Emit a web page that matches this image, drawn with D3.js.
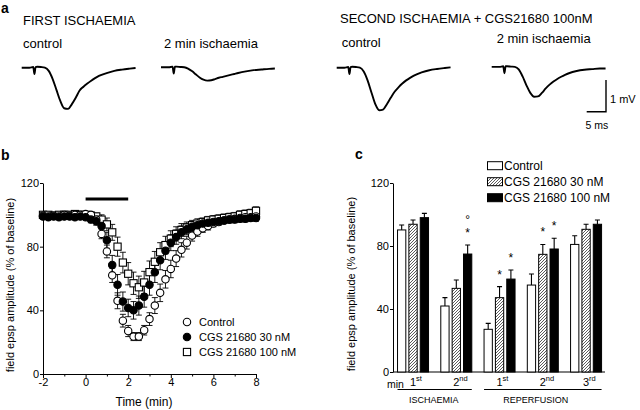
<!DOCTYPE html>
<html><head><meta charset="utf-8">
<script src="https://cdn.jsdelivr.net/npm/d3@7"></script>
<style>body{margin:0;background:#fff}svg{display:block;font-family:"Liberation Sans",Arial,Helvetica,sans-serif}</style>
</head><body>
<svg id="chart" width="640" height="410"></svg>
<script>
// ---------------- DATA ----------------
// panel a: field EPSP traces (time in ms, amplitude in mV)
const traceTimes = [0,1,2,3,3.3,3.6,4,5,6,7,8,9,10,11,12,13,14,15,16,17,18,19,20,22,24,26,28,29.5];
const traceFirstControl = [0,0,0,0.02,-0.2,0.02,0.03,0.02,0,-0.1,-0.35,-0.7,-1.05,-1.28,-1.3,-1.15,-0.95,-0.72,-0.6,-0.5,-0.41,-0.33,-0.26,-0.17,-0.1,-0.06,-0.03,-0.01];
const traceFirstIsch   = [0,0,0,0.02,-0.2,0.02,0.02,0.01,0,-0.04,-0.12,-0.22,-0.32,-0.39,-0.42,-0.41,-0.37,-0.33,-0.3,-0.27,-0.24,-0.21,-0.18,-0.13,-0.09,-0.07,-0.05,-0.04];
const traceSecondControl = [0,0,0,0.02,-0.2,0.02,0.03,0.02,0,-0.12,-0.4,-0.78,-1.15,-1.34,-1.32,-1.15,-0.95,-0.76,-0.62,-0.5,-0.4,-0.32,-0.25,-0.15,-0.08,-0.04,-0.01,0.01];
const traceSecondIsch  = [0,0,0,0.02,-0.2,0.02,0.02,0.01,0,-0.08,-0.3,-0.58,-0.82,-0.94,-0.93,-0.82,-0.68,-0.56,-0.46,-0.38,-0.31,-0.25,-0.2,-0.13,-0.09,-0.07,-0.05,-0.05];
const traceLabels = ["control","2 min ischaemia","control","2 min ischaemia"];
const headerLabels = ["FIRST ISCHAEMIA","SECOND ISCHAEMIA + CGS21680 100nM"];
const scaleBarMV = 1, scaleBarMS = 5;

// panel b: time course
const timeMin = [-2,-1.75,-1.5,-1.25,-1,-0.75,-0.5,-0.25,0,0.25,0.5,0.75,1,1.25,1.5,1.75,2,2.25,2.5,2.75,3,3.25,3.5,3.75,4,4.25,4.5,4.75,5,5.25,5.5,5.75,6,6.25,6.5,6.75,7,7.25,7.5,7.75,8];
const ctrlMean = [99.5,99,99.5,99,100,99.5,100,100,100.5,100,97,88,77,62,46,33.5,27,23.5,23.5,27.5,34.5,43,51,59.5,66,72.5,78,82.5,87,89.5,91.5,93,94.5,95.5,96.5,97,97.5,98,98.5,98.5,99];
const ctrlSE   = [1.5,1.5,1.5,1.5,1.5,1.5,1.5,1.5,1.5,1.5,2,3,4,4.5,5,4,3.5,2.5,2.5,3,4,5,5.5,5.5,5.5,5,4.5,4,3.5,3,2.5,2.5,2,2,2,2,2,2,2,2,2];
const cgs30Mean = [99,98.5,99,98.5,99,99,98.5,99,98.5,97,96,93,84,68.5,56,45.5,41.5,40,43,48.5,56,64,71.5,77.5,82.5,86,89,91,92.5,93.5,94.5,95,95.5,96,96.5,97,97,97.5,97.5,98,98];
const cgs30SE   = [1.5,1.5,1.5,1.5,1.5,1.5,1.5,1.5,1.5,2,2.5,4,5,6,6.5,6,5.5,5.5,6,6.5,6.5,6.5,6,5.5,5,4.5,4,3.5,3,2.5,2,2,2,2,2,2,2,2,2,2,2];
const cgs100Mean = [100,100,99.5,100,100,100,100.5,100,100,99.5,99,97,94,89,80,70,63,57,54.5,57.5,64,70.5,76.5,81,85,88,90.5,92,93.5,94.5,95.5,96.5,97,97.5,98,98.5,99,100,100.5,101,102.5];
const cgs100SE   = [1.5,1.5,1.5,1.5,1.5,1.5,1.5,1.5,1.5,1.5,2,3,4,5,6,6.5,7,7,7,7,7,6.5,6,5.5,5,4.5,4,3.5,3,3,2.5,2.5,2.5,2.5,2.5,2.5,2.5,2.5,2.5,2.5,2.5];
const ischaemiaPeriod = [0, 2];
const ischaemiaBarLevel = 110;
const bXTicks = [-2,-1,0,1,2,3,4,5,6,7,8];
const bYTicks = [0,40,80,120];
const seriesNames = ["Control","CGS 21680 30 nM","CGS 21680 100 nM"];

// panel c: bar chart
const barGroupNum = ["1","2","1","2","3"];
const barGroupSup = ["st","nd","st","nd","rd"];
const barCtrl    = [90.2,41.9,27.1,55.2,81];
const barCtrlErr = [3.1,5.3,3.8,7,5.5];
const bar30      = [93.8,53.1,47.2,74.7,90.6];
const bar30Err   = [2.7,5.3,7,6.3,3.2];
const bar100     = [98,74.9,59,78.1,93.8];
const bar100Err  = [2.7,5.7,5.8,6.8,2.7];
const cYTicks = [0,40,80,120];
const phaseNames = ["ISCHAEMIA","REPERFUSION"];
const phaseGroups = [[0,1],[2,4]];
const annotGroup  = [1,1,2,2,3,3];
const annotSeries = [2,2,1,2,1,2];
const annotText   = ["*","°","*","*","*","*"];
const annotLevel  = [0,1,0,0,0,0];

// ---------------- DRAW ----------------
const svg = d3.select("#chart");
const txt = (x,y,s,size,opts={}) => {
  const t = svg.append("text").attr("x",x).attr("y",y).attr("font-size",size).text(s);
  if (opts.anchor) t.attr("text-anchor",opts.anchor);
  if (opts.bold) t.attr("font-weight","bold");
  return t;
};

// panel letters
txt(1,13,"a",14,{bold:true});
txt(1,160,"b",14,{bold:true});
txt(355,159,"c",14,{bold:true});

// ---- panel a ----
txt(23,25,headerLabels[0],13);
txt(340,23.3,headerLabels[1],13);
const traceLabelPos = [[23,48.3],[164,48],[341.7,46.5],[496.7,43.3]];
traceLabels.forEach((l,i)=>txt(traceLabelPos[i][0],traceLabelPos[i][1],l,13));

const msScale = d3.scaleLinear().domain([0,5]).range([0,19.3]);
const mvScale = d3.scaleLinear().domain([0,-1]).range([0,31.7]);
const traceLine = d3.line().x(d=>msScale(d[0])).y(d=>mvScale(d[1])).curve(d3.curveMonotoneX);
const traces = [traceFirstControl,traceFirstIsch,traceSecondControl,traceSecondIsch];
const traceOrigins = [[21.7,67.7],[161,67.3],[336.7,67.7],[491.7,66.9]];
traces.forEach((vals,i)=>{
  svg.append("path")
    .attr("transform",`translate(${traceOrigins[i][0]},${traceOrigins[i][1]})`)
    .attr("d",traceLine(traceTimes.map((t,j)=>[t,vals[j]])))
    .attr("fill","none").attr("stroke","#000").attr("stroke-width",1.9);
});
// scale bar
const sbX = 606, sbY = 111.7;
const sbH = mvScale(-scaleBarMV)-mvScale(0), sbW = msScale(scaleBarMS)-msScale(0);
svg.append("path").attr("d",`M${sbX},${sbY-sbH}V${sbY}H${sbX-sbW}`)
  .attr("fill","none").attr("stroke","#000").attr("stroke-width",1.4);
txt(610,103.3,"1 mV",11);
txt(597,129,"5 ms",10.5,{anchor:"middle"});

// ---- panel b ----
const bx = d3.scaleLinear().domain([-2,8]).range([43,256]);
const by = d3.scaleLinear().domain([0,120]).range([374,183]);
const bxAxis = svg.append("g").attr("transform","translate(0,374)")
  .call(d3.axisBottom(bx).tickValues(bXTicks).tickFormat(d=>d%2===0?String(d):"")
        .tickSize(3).tickPadding(1).tickSizeOuter(0));
const byAxis = svg.append("g").attr("transform","translate(43,0)")
  .call(d3.axisLeft(by).tickValues(bYTicks).tickSize(3).tickPadding(1).tickSizeOuter(0));
[bxAxis,byAxis].forEach(g=>{
  g.selectAll("text").attr("font-size",11).attr("font-family",null).attr("fill","#000");
  g.selectAll("line,path").attr("stroke","#000");
  g.attr("font-family",null);
});
bxAxis.selectAll(".tick line").attr("y2",(d)=>d%2===0?4:2.5);
txt(144,406,"Time (min)",12,{anchor:"middle"});
svg.append("text").attr("transform","translate(14,285) rotate(-90)")
  .attr("text-anchor","middle").attr("font-size",11).text("field epsp amplitude (% of baseline)");

// ischaemia bar
svg.append("line").attr("x1",bx(ischaemiaPeriod[0])).attr("x2",bx(ischaemiaPeriod[1]))
  .attr("y1",by(ischaemiaBarLevel)).attr("y2",by(ischaemiaBarLevel))
  .attr("stroke","#000").attr("stroke-width",3);

const bSeries = [
  {mean:cgs100Mean,se:cgs100SE,shape:"square",fill:"#fff"},
  {mean:ctrlMean,se:ctrlSE,shape:"circle",fill:"#fff"},
  {mean:cgs30Mean,se:cgs30SE,shape:"circle",fill:"#000"}
];
const cap = 3;
bSeries.forEach(s=>{
  const g = svg.append("g").attr("stroke","#000").attr("stroke-width",0.9);
  timeMin.forEach((t,i)=>{
    const x = bx(t), y1 = by(s.mean[i]+s.se[i]), y2 = by(s.mean[i]-s.se[i]);
    g.append("path").attr("d",`M${x},${y1}V${y2}M${x-cap},${y1}H${x+cap}M${x-cap},${y2}H${x+cap}`);
  });
});
function marker(g,shape,fill,x,y){
  if(shape==="circle") g.append("circle").attr("cx",x).attr("cy",y).attr("r",3.7)
     .attr("fill",fill).attr("stroke","#000").attr("stroke-width",1.1);
  else g.append("rect").attr("x",x-3.6).attr("y",y-3.6).attr("width",7.2).attr("height",7.2)
     .attr("fill",fill).attr("stroke","#000").attr("stroke-width",1.1);
}
bSeries.forEach(s=>{
  const g = svg.append("g");
  timeMin.forEach((t,i)=>marker(g,s.shape,s.fill,bx(t),by(s.mean[i])));
});
// legend b
const bLegend = [{shape:"circle",fill:"#fff"},{shape:"circle",fill:"#000"},{shape:"square",fill:"#fff"}];
bLegend.forEach((l,i)=>{
  const cy = 322 + i*15;
  marker(svg,l.shape,l.fill,187,cy);
  txt(199,cy+4,seriesNames[i],11);
});

// ---- panel c ----
const defs = svg.append("defs");
const pat = defs.append("pattern").attr("id","hatch").attr("patternUnits","userSpaceOnUse")
  .attr("width",3).attr("height",3);
pat.append("rect").attr("width",3).attr("height",3).attr("fill","#fff");
pat.append("path").attr("d","M-1,1L1,-1M0,3L3,0M2,4L4,2").attr("stroke","#333").attr("stroke-width",0.8);

const cy = d3.scaleLinear().domain([0,120]).range([372,183]);
const cx = d3.scaleBand().domain(d3.range(barGroupNum.length)).range([391.4,607.7]);
const cs = d3.scaleBand().domain([0,1,2]).range([-15.5,15.5]).paddingInner(0.27);
const cyAxis = svg.append("g").attr("transform","translate(393,0)")
  .call(d3.axisLeft(cy).tickValues(cYTicks).tickSize(3).tickPadding(1).tickSizeOuter(0));
cyAxis.attr("font-family",null);
cyAxis.selectAll("text").attr("font-size",11).attr("fill","#000");
cyAxis.selectAll("line,path").attr("stroke","#000");
svg.append("line").attr("x1",393).attr("x2",605).attr("y1",372).attr("y2",372).attr("stroke","#000");
svg.append("text").attr("transform","translate(355,284) rotate(-90)")
  .attr("text-anchor","middle").attr("font-size",11).text("field epsp amplitude (% of baseline)");

const barVals = [barCtrl,bar30,bar100];
const barErrs = [barCtrlErr,bar30Err,bar100Err];
const barFills = ["#fff","url(#hatch)","#000"];
const center = g => cx(g)+cx.bandwidth()/2;
barVals.forEach((vals,s)=>{
  vals.forEach((v,g)=>{
    const x0 = center(g)+cs(s), w = cs.bandwidth(), xm = x0+w/2;
    const top = cy(v+barErrs[s][g]);
    svg.append("path").attr("d",`M${xm},${cy(v)}V${top}M${xm-2.5},${top}H${xm+2.5}`)
      .attr("stroke","#000").attr("stroke-width",1.1).attr("fill","none");
    svg.append("rect").attr("x",x0).attr("y",cy(v)).attr("width",w).attr("height",cy(0)-cy(v))
      .attr("fill",barFills[s]).attr("stroke","#000").attr("stroke-width",1);
  });
});
annotText.forEach((a,i)=>{
  const g = annotGroup[i], s = annotSeries[i];
  const xm = center(g)+cs(s)+cs.bandwidth()/2;
  const yc = cy(barVals[s][g]+barErrs[s][g]) - 15 - annotLevel[i]*13;
  txt(xm, yc + 7, a, 12, {anchor:"middle"});
});
// x labels
txt(387,388,"min",10.5);
barGroupNum.forEach((n,g)=>{
  const t = svg.append("text").attr("x",center(g)-3.1).attr("y",385.5).attr("font-size",11);
  t.append("tspan").text(n);
  t.append("tspan").attr("font-size",7.5).attr("dy",-4.5).text(barGroupSup[g]);
});
phaseNames.forEach((p,i)=>{
  const [g0,g1] = phaseGroups[i];
  const xa = center(g0)+cs(0), xb = center(g1)+cs(2)+cs.bandwidth();
  svg.append("line").attr("x1",xa).attr("x2",xb).attr("y1",389.5).attr("y2",389.5).attr("stroke","#000");
  txt((xa+xb)/2 - (i===1?7:1),403,p,9,{anchor:"middle"});
});
// legend c
seriesNames.forEach((n,i)=>{
  const y = 161.7 + i*16;
  svg.append("rect").attr("x",487.5).attr("y",y).attr("width",15).attr("height",8)
    .attr("fill",barFills[i]).attr("stroke","#000").attr("stroke-width",1);
  txt(504,y+8.2,n,12);
});
</script>
</body></html>
